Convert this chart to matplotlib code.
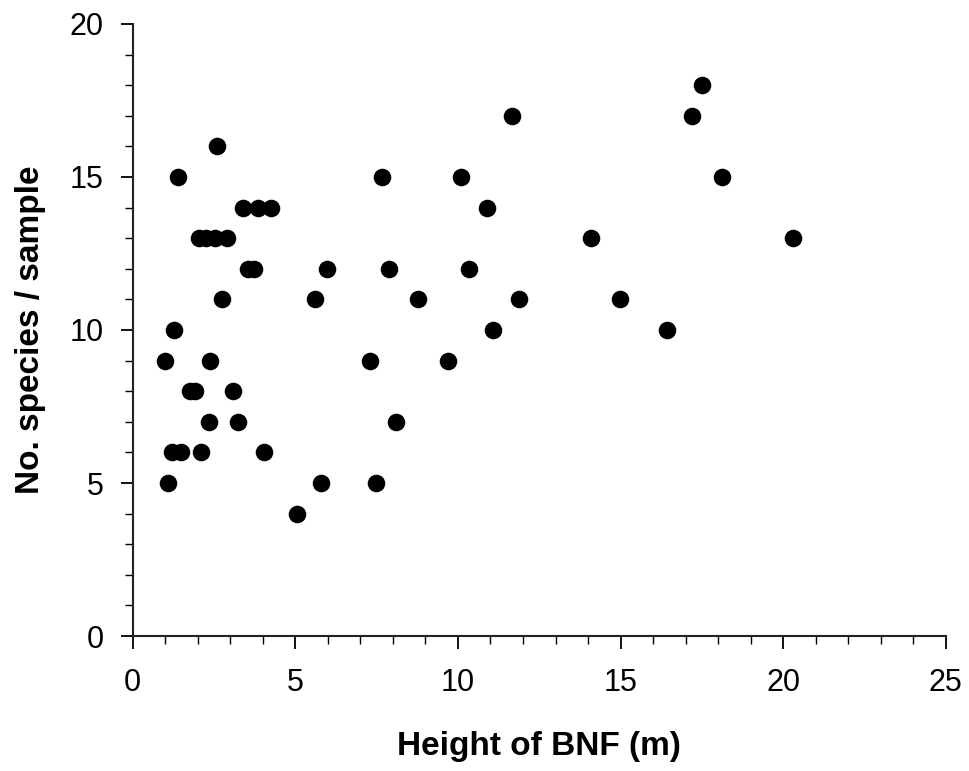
import matplotlib
matplotlib.use("Agg")
import matplotlib.pyplot as plt
from matplotlib.ticker import MultipleLocator

height_bnf = [0.98, 1.08, 1.2, 1.26, 1.38, 1.48, 1.75, 1.9, 2.03, 2.09, 2.25, 2.34, 2.37,
              2.52, 2.6, 2.74, 2.89, 3.08, 3.23, 3.38, 3.54, 3.72, 3.85, 4.03, 4.25,
              5.05, 5.6, 5.78, 5.97, 7.29, 7.48, 7.66, 7.88, 8.09, 8.77, 9.69, 10.09,
              10.34, 10.89, 11.08, 11.66, 11.88, 14.09, 14.98, 16.43, 17.2, 17.5, 18.12, 20.3]
species = [9, 5, 6, 10, 15, 6, 8, 8, 13, 6, 13, 7, 9,
           13, 16, 11, 13, 8, 7, 14, 12, 12, 14, 6, 14,
           4, 11, 5, 12, 9, 5, 15, 12, 7, 11, 9, 15,
           12, 14, 10, 17, 11, 13, 11, 10, 17, 18, 15, 13]

plt.rcParams['font.family'] = ['Liberation Sans', 'DejaVu Sans']

fig = plt.figure(figsize=(9.69, 7.71), dpi=100)
ax = fig.add_axes([0.137, 0.175, 0.839, 0.794])
ax.scatter(height_bnf, species, s=160, color='black', zorder=3, linewidths=0)

ax.set_xlim(0, 25)
ax.set_ylim(0, 20)
ax.xaxis.set_major_locator(MultipleLocator(5))
ax.xaxis.set_minor_locator(MultipleLocator(1))
ax.yaxis.set_major_locator(MultipleLocator(5))
ax.yaxis.set_minor_locator(MultipleLocator(1))
for s in ['top', 'right']:
    ax.spines[s].set_visible(False)
for s in ['left', 'bottom']:
    ax.spines[s].set_linewidth(1.5)
    ax.spines[s].set_color('#222222')
ax.tick_params(which='major', direction='out', length=9, width=1.3, labelsize=22)
ax.tick_params(axis='x', which='major', pad=14)
ax.tick_params(axis='y', which='major', pad=12)
ax.tick_params(which='minor', direction='out', length=6, width=1.0)
ax.set_xlabel('Height of BNF (m)', fontsize=24, fontweight='bold', labelpad=24)
ax.set_ylabel('No. species / sample', fontsize=24, fontweight='bold', labelpad=17)

fig.savefig('out.png', dpi=100)
